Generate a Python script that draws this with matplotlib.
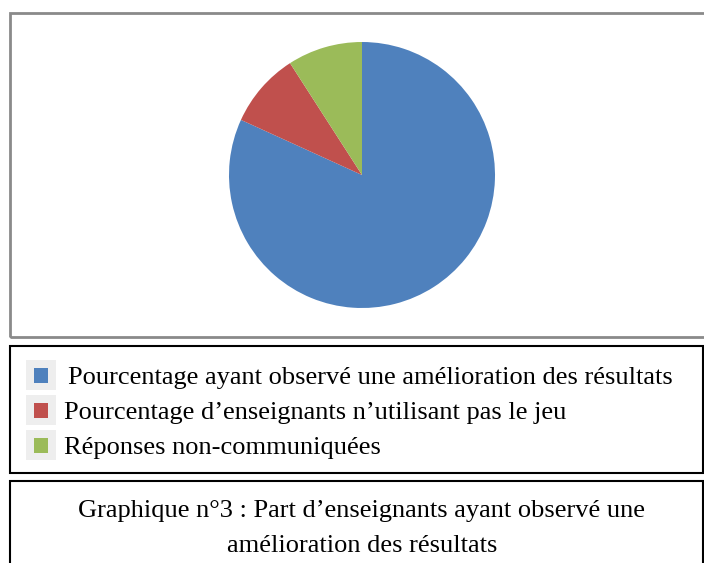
import matplotlib.pyplot as plt
from matplotlib.patches import Rectangle

W, H = 704, 563

# Données (parts estimées sur le graphique)
labels = [
    "Pourcentage ayant observé une amélioration des résultats",
    "Pourcentage d\u2019enseignants n\u2019utilisant pas le jeu",
    "Réponses non-communiquées",
]
values = [81.8, 9.1, 9.1]
colors = ["#4F81BD", "#C0504D", "#9BBB59"]
caption = [
    "Graphique n°3 : Part d\u2019enseignants ayant observé une",
    "amélioration des résultats",
]

plt.rcParams["font.family"] = ["Liberation Serif", "DejaVu Serif"]

fig = plt.figure(figsize=(W / 100, H / 100), dpi=100)


def box(x0, y0, x1, y1):
    # pixels (origine en haut à gauche) -> fraction de figure
    return x0 / W, 1 - y1 / H, (x1 - x0) / W, (y1 - y0) / H


def rect(x0, y0, x1, y1, **kw):
    fig.patches.append(Rectangle(box(x0, y0, x1, y1)[:2], (x1 - x0) / W,
                                 (y1 - y0) / H, transform=fig.transFigure, **kw))


# Cadres
rect(10, 13, 706, 337, fill=False, edgecolor="#8a8a8a", linewidth=2)
rect(10, 346, 703, 473, fill=False, edgecolor="black", linewidth=1.5)
rect(10, 481, 703, 566, fill=False, edgecolor="black", linewidth=1.5)

# Camembert
ax = fig.add_axes(box(229, 42, 495, 308))
ax.pie(values, colors=colors, startangle=90, counterclock=False,
       wedgeprops=dict(linewidth=0))
ax.set_xlim(-1, 1)
ax.set_ylim(-1, 1)
ax.set_aspect("equal")
ax.axis("off")

# Légende
rows_y = [375, 410, 445]
text_x = [68, 64, 64]
for lab, col, y, tx in zip(labels, colors, rows_y, text_x):
    rect(26, y - 15, 56, y + 15, facecolor="#eeeeee", edgecolor="none")
    rect(34, y - 7.5, 48, y + 7.5, facecolor=col, edgecolor="none")
    fig.text(tx / W, 1 - (y + 3) / H, lab, fontsize=19, va="center", ha="left")

# Légende du graphique
for line, y in zip(caption, [511, 546]):
    fig.text(362 / W, 1 - y / H, line, fontsize=19, va="center", ha="center")

fig.savefig("out.png", dpi=100)
